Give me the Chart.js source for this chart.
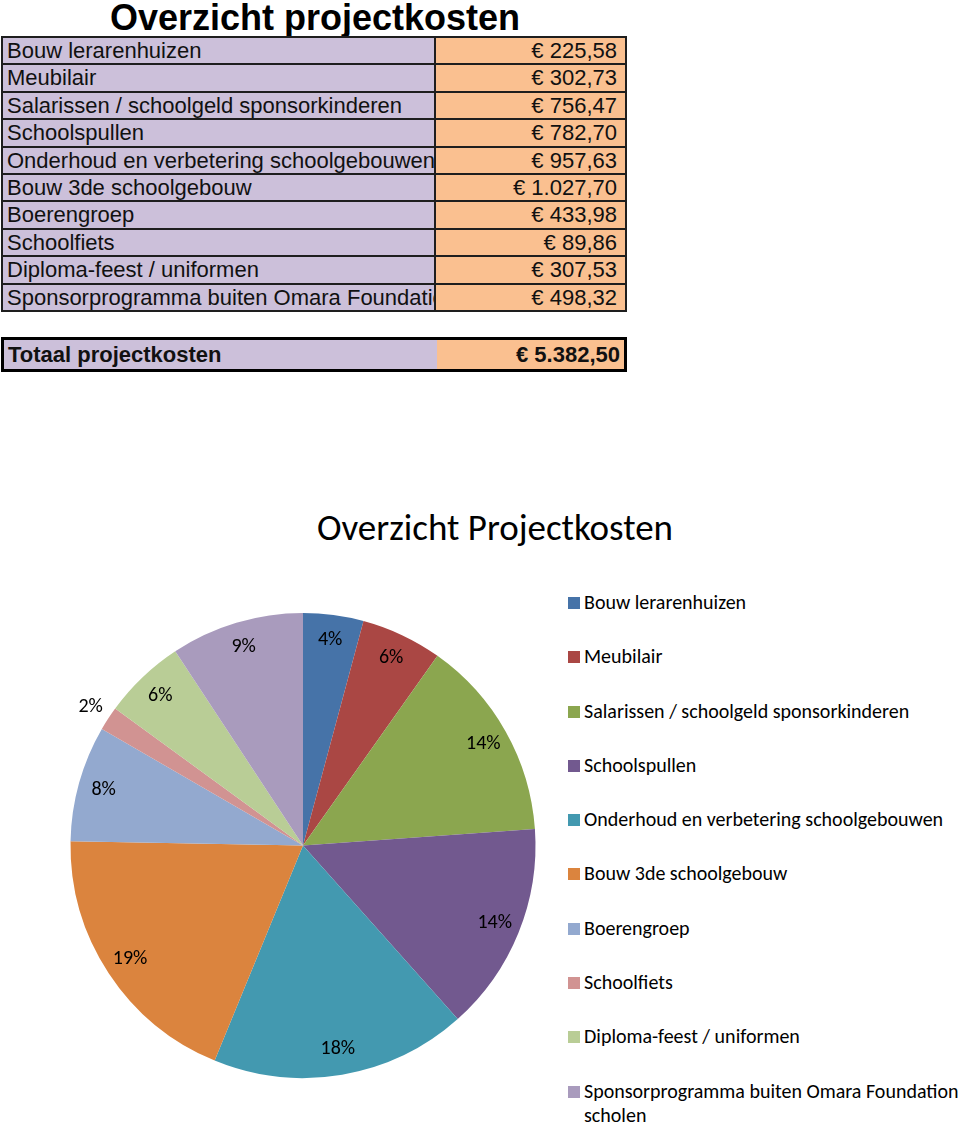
<!DOCTYPE html>
<html><head><meta charset="utf-8">
<script src="https://cdn.jsdelivr.net/npm/chart.js@4"></script>
<style>
html,body{margin:0;padding:0;background:#fff;}
body{width:960px;height:1125px;position:relative;overflow:hidden;font-family:"Liberation Sans",Arial,sans-serif;color:#000;}
#ttl{position:absolute;left:0;width:630px;top:-3px;text-align:center;font-weight:bold;font-size:36px;line-height:42px;}
#tbl{position:absolute;left:1px;top:36px;width:622px;border:2px solid #1e1e1e;}
.row{display:flex;height:25.4px;border-bottom:2px solid #1e1e1e;}
.row:last-child{border-bottom:none;}
.lab{width:427px;background:#ccc0da;border-right:2px solid #1e1e1e;padding-left:4px;font-size:22px;line-height:26px;white-space:nowrap;overflow:hidden;color:#111;}
.val{flex:1;background:#fac090;text-align:right;padding-right:8px;font-size:22px;line-height:26px;white-space:nowrap;color:#111;}
#tot{position:absolute;left:1px;top:337px;width:620px;height:29px;border:3px solid #000;display:flex;font-weight:bold;}
#tot .lab{border-right:none;width:429px;line-height:29px;font-size:22px;}
#tot .val{line-height:29px;font-size:22px;padding-right:4px;}
#ctitle{position:absolute;left:240px;width:510px;top:506px;text-align:center;font-family:Carlito,Lato,"Open Sans",sans-serif;font-size:37px;line-height:44px;}
#chartbox{position:absolute;left:0;top:600px;width:560px;height:525px;}
#legend{position:absolute;left:568px;top:590px;width:392px;display:flex;flex-direction:column;gap:30.3px;font-family:Carlito,Lato,"Open Sans",sans-serif;font-size:20px;line-height:24px;}
.li{display:flex;align-items:flex-start;}
.sw{width:12px;height:12px;margin-top:7px;margin-right:4px;flex:none;}
</style>
</head><body>
<div id="ttl">Overzicht projectkosten</div>
<div id="tbl"></div>
<div id="tot"><div class="lab">Totaal projectkosten</div><div class="val" id="totval"></div></div>
<div id="ctitle">Overzicht Projectkosten</div>
<div id="chartbox"><canvas id="c"></canvas></div>
<div id="legend"></div>
<script>
const tableTitle = "Overzicht projectkosten";
const chartTitle = "Overzicht Projectkosten";
const totalLabel = "Totaal projectkosten";
const categories = [
  "Bouw lerarenhuizen",
  "Meubilair",
  "Salarissen / schoolgeld sponsorkinderen",
  "Schoolspullen",
  "Onderhoud en verbetering schoolgebouwen",
  "Bouw 3de schoolgebouw",
  "Boerengroep",
  "Schoolfiets",
  "Diploma-feest / uniformen",
  "Sponsorprogramma buiten Omara Foundation scholen"
];
const costs = [225.58, 302.73, 756.47, 782.70, 957.63, 1027.70, 433.98, 89.86, 307.53, 498.32];
const colors = ["#4673a8","#aa4744","#8ba64f","#72598f","#4399b0","#db843e","#93a9cf","#d19392","#b9cd96","#a99bbd"];

function euro(v){
  const parts = v.toFixed(2).split(".");
  const intp = parts[0].replace(/\B(?=(\d{3})+(?!\d))/g, ".");
  return "\u20ac " + intp + "," + parts[1];
}
const tbl = document.getElementById("tbl");
categories.forEach((l,i)=>{
  const r = document.createElement("div"); r.className="row";
  const a = document.createElement("div"); a.className="lab"; a.textContent=l;
  const b = document.createElement("div"); b.className="val"; b.textContent=euro(costs[i]);
  r.appendChild(a); r.appendChild(b); tbl.appendChild(r);
});
const total = costs.reduce((a,b)=>a+b,0);
document.getElementById("totval").textContent = euro(total);

const leg = document.getElementById("legend");
categories.forEach((c,i)=>{
  const d = document.createElement("div"); d.className="li";
  const s = document.createElement("span"); s.className="sw"; s.style.background=colors[i];
  const t = document.createElement("span"); t.textContent=c;
  d.appendChild(s); d.appendChild(t); leg.appendChild(d);
});

function pctLabels(vals){
  const tot = vals.reduce((a,b)=>a+b,0);
  const raw = vals.map(v=>v/tot*100);
  const fl = raw.map(Math.floor);
  const rem = 100 - fl.reduce((a,b)=>a+b,0);
  const order = raw.map((r,i)=>[r-Math.floor(r),i]).sort((a,b)=>b[0]-a[0]);
  for(let k=0;k<rem;k++) fl[order[k][1]]++;
  return fl;
}
const pcts = pctLabels(costs);

const labelPlugin = {
  id:"pctlabels",
  afterDatasetsDraw(chart){
    const ctx = chart.ctx;
    const meta = chart.getDatasetMeta(0);
    ctx.save();
    ctx.font = '20px Carlito, Lato, "Open Sans", sans-serif';
    ctx.fillStyle = "#000";
    ctx.textAlign = "center";
    ctx.textBaseline = "middle";
    meta.data.forEach((arc,i)=>{
      const p = arc.getProps(["x","y","startAngle","endAngle","outerRadius"], true);
      const mid = (p.startAngle + p.endAngle)/2;
      const frac = (p.endAngle - p.startAngle)/(2*Math.PI);
      const r = frac < 0.03 ? p.outerRadius + 21 : p.outerRadius*0.89;
      ctx.fillText(pcts[i] + "%", p.x + Math.cos(mid)*r, p.y + Math.sin(mid)*r);
    });
    ctx.restore();
  }
};

new Chart(document.getElementById("c"), {
  type:"pie",
  data:{ labels: categories, datasets:[{ data: costs, backgroundColor: colors, borderWidth: 0 }] },
  options:{
    responsive:true, maintainAspectRatio:false, animation:false,
    layout:{ padding:{ left:70, right:24, top:13, bottom:47 } },
    plugins:{ legend:{display:false}, tooltip:{enabled:false}, title:{display:false} }
  },
  plugins:[labelPlugin]
});
</script>
</body></html>
